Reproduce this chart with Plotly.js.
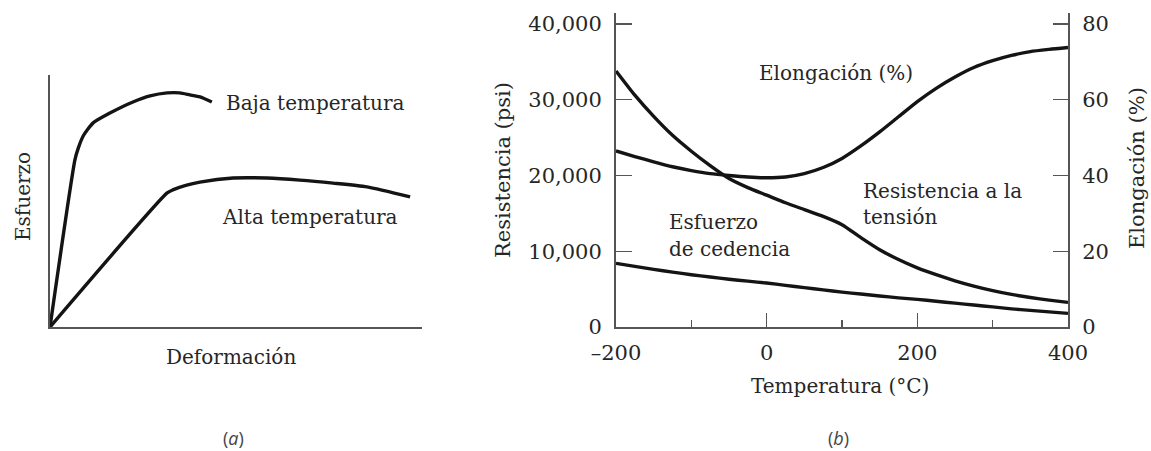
<!DOCTYPE html>
<html>
<head>
<meta charset="utf-8">
<script src="https://cdn.plot.ly/plotly-3.0.1.min.js"></script>
<style>html,body{margin:0;padding:0;background:#fff;}#chart{width:1151px;height:451px;}</style>
</head>
<body>
<div id="chart"></div>
<script>
// ---- Panel (a): stress-strain curves (arbitrary units) ----
const strainLow  = [0, 6.7, 7.6, 9.0, 11.6, 16.1, 22.3, 26.9, 31.5, 34.9, 37.6, 40.3, 43.5];
const stressLow  = [0, 66.3, 71.0, 76.0, 81.0, 84.9, 89.3, 91.7, 92.9, 92.9, 92.1, 91.3, 89.3];
const strainHigh = [0, 31.5, 33.0, 36.5, 40.3, 49.2, 58.3, 67.2, 76.1, 85.2, 96.8];
const stressHigh = [0, 53.2, 54.4, 56.2, 57.5, 59.1, 59.1, 58.3, 57.1, 55.6, 51.6];

// ---- Panel (b): properties vs temperature ----
const temperature = [-200,-175,-150,-125,-100,-75,-50,-25,0,25,50,75,100,125,150,175,200,225,250,275,300,325,350,375,400];
const tensileStrength = [33800,30600,27800,25300,23200,21300,19600,18400,17400,16400,15500,14600,13500,11800,10200,8900,7800,6900,6100,5400,4800,4300,3900,3550,3250];
const yieldStrength   = [8400,8000,7600,7250,6900,6600,6300,6050,5800,5500,5200,4900,4600,4350,4100,3850,3650,3400,3150,2900,2650,2400,2200,2000,1800];
const elongation      = [46.5,45.0,43.6,42.3,41.3,40.5,40.0,39.6,39.4,39.6,40.5,42.1,44.5,47.8,51.5,55.5,59.5,63.0,66.0,68.5,70.3,71.7,72.7,73.3,73.8];

const tempTickVals  = [-200, 0, 200, 400];
const tempTickText  = ['\u2013200', '0', '200', '400'];
const tempMinorVals = [-100, 100, 300];
const psiTickVals   = [0, 10000, 20000, 30000, 40000];
const psiTickText   = ['0', '10,000', '20,000', '30,000', '40,000'];
const elongTickVals = [0, 20, 40, 60, 80];

const W = 1151, H = 451;
const px = v => v / W;
const py = v => 1 - v / H;

const SERIF = 'DejaVu Serif, Liberation Serif, serif';
const TXT = '#262626';
const AX = '#555555';
const lineStyle = {color: '#141414', width: 3.4, shape: 'spline', smoothing: 0.6};

const traces = [
  {x: strainLow, y: stressLow, xaxis: 'x', yaxis: 'y', mode: 'lines', line: lineStyle, hoverinfo: 'skip'},
  {x: strainHigh, y: stressHigh, xaxis: 'x', yaxis: 'y', mode: 'lines', line: lineStyle, hoverinfo: 'skip'},
  {x: temperature, y: tensileStrength, xaxis: 'x2', yaxis: 'y2', mode: 'lines', line: lineStyle, hoverinfo: 'skip'},
  {x: temperature, y: yieldStrength, xaxis: 'x2', yaxis: 'y2', mode: 'lines', line: lineStyle, hoverinfo: 'skip'},
  {x: temperature, y: elongation, xaxis: 'x2', yaxis: 'y3', mode: 'lines', line: lineStyle, hoverinfo: 'skip'}
];

const tickFont = {family: SERIF, size: 21, color: TXT};

const layout = {
  width: W, height: H,
  margin: {l: 0, r: 0, t: 0, b: 0},
  paper_bgcolor: '#ffffff', plot_bgcolor: 'rgba(0,0,0,0)',
  showlegend: false,
  xaxis: {domain: [px(50), px(422)], range: [0, 100], anchor: 'y',
    showline: true, linecolor: AX, linewidth: 2, showgrid: false, zeroline: false,
    showticklabels: false, ticks: '', fixedrange: true},
  yaxis: {domain: [py(327), py(75)], range: [0, 100], anchor: 'x',
    showline: true, linecolor: AX, linewidth: 2, showgrid: false, zeroline: false,
    showticklabels: false, ticks: '', fixedrange: true},
  xaxis2: {domain: [px(616), px(1068)], range: [-200, 400], anchor: 'y2',
    showline: true, linecolor: AX, linewidth: 2, showgrid: false, zeroline: false,
    tickmode: 'array', tickvals: tempTickVals, ticktext: tempTickText,
    ticks: 'inside', ticklen: 14, tickwidth: 1.5, tickcolor: AX,
    minor: {tickmode: 'array', tickvals: tempMinorVals, ticks: 'inside', ticklen: 7, tickwidth: 1.5, tickcolor: AX},
    tickfont: tickFont, ticklabelstandoff: 6, fixedrange: true},
  yaxis2: {domain: [py(327), py(13)], range: [0, 41450], anchor: 'x2',
    showline: true, linecolor: AX, linewidth: 2, showgrid: false, zeroline: false,
    tickmode: 'array', tickvals: psiTickVals, ticktext: psiTickText,
    ticks: 'inside', ticklen: 16, tickwidth: 1.5, tickcolor: AX,
    tickfont: tickFont, ticklabelstandoff: 8, fixedrange: true},
  yaxis3: {overlaying: 'y2', anchor: 'x2', side: 'right', range: [0, 82.9],
    showline: true, linecolor: AX, linewidth: 2, showgrid: false, zeroline: false,
    tickmode: 'array', tickvals: elongTickVals,
    ticks: 'inside', ticklen: 15, tickwidth: 1.5, tickcolor: AX,
    tickfont: tickFont, ticklabelstandoff: 8, fixedrange: true},
  annotations: [
    // panel (a)
    {text: 'Baja temperatura', x: px(224), y: py(103), xanchor: 'left', yanchor: 'middle'},
    {text: 'Alta temperatura', x: px(220), y: py(217), xanchor: 'left', yanchor: 'middle'},
    {text: 'Esfuerzo', x: px(23), y: py(197), xanchor: 'center', yanchor: 'middle', textangle: -90},
    {text: 'Deformación', x: px(231), y: py(357), xanchor: 'center', yanchor: 'middle'},
    {text: '(<i>a</i>)', x: px(233), y: py(438), xanchor: 'center', yanchor: 'middle',
      font: {family: 'Open Sans, sans-serif', size: 18, color: '#444'}},
    // panel (b)
    {text: 'Elongación (%)', x: px(836), y: py(73), xanchor: 'center', yanchor: 'middle'},
    {text: 'Resistencia a la', x: px(861), y: py(191), xanchor: 'left', yanchor: 'middle'},
    {text: 'tensión', x: px(861), y: py(217), xanchor: 'left', yanchor: 'middle'},
    {text: 'Esfuerzo', x: px(667), y: py(222), xanchor: 'left', yanchor: 'middle'},
    {text: 'de cedencia', x: px(667), y: py(249), xanchor: 'left', yanchor: 'middle'},
    {text: 'Resistencia (psi)', x: px(503), y: py(170), xanchor: 'center', yanchor: 'middle', textangle: -90,
      font: {family: SERIF, size: 21, color: TXT}},
    {text: 'Elongación (%)', x: px(1137), y: py(168), xanchor: 'center', yanchor: 'middle', textangle: -90,
      font: {family: SERIF, size: 21, color: TXT}},
    {text: 'Temperatura (°C)', x: px(840), y: py(386), xanchor: 'center', yanchor: 'middle'},
    {text: '(<i>b</i>)', x: px(838), y: py(438), xanchor: 'center', yanchor: 'middle',
      font: {family: 'Open Sans, sans-serif', size: 18, color: '#444'}}
  ].map(a => Object.assign({xref: 'paper', yref: 'paper', showarrow: false,
      font: {family: SERIF, size: 20, color: TXT}}, a))
};

Plotly.newPlot('chart', traces, layout, {staticPlot: true, displayModeBar: false});
</script>
</body>
</html>
